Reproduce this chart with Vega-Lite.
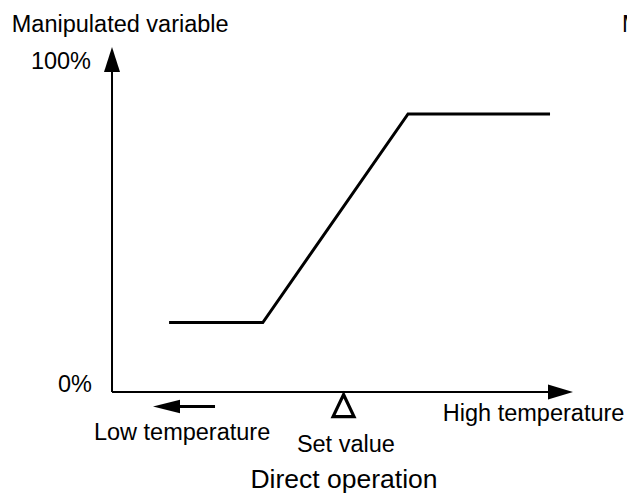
{
  "$schema": "https://vega.github.io/schema/vega-lite/v6.json",
  "width": 627,
  "height": 495,
  "padding": 0,
  "autosize": {"type": "none"},
  "background": "white",
  "config": {"view": {"stroke": null}},
  "datasets": {
    "curve": [
      {"t": 12.3, "mv": 21},
      {"t": 32.5, "mv": 21},
      {"t": 63.8, "mv": 84},
      {"t": 94.4, "mv": 84}
    ],
    "axes": [
      {"axis": "y", "t": 0, "mv": 0},
      {"axis": "y", "t": 0, "mv": 100},
      {"axis": "x", "t": 0, "mv": 0},
      {"axis": "x", "t": 96, "mv": 0}
    ],
    "lowArrow": [
      {"t": 12.5, "mv": -4.4},
      {"t": 22.2, "mv": -4.4}
    ],
    "heads": [
      {"head": "up", "t": 0, "mv": 100.45},
      {"head": "right", "t": 96.66, "mv": 0},
      {"head": "left", "t": 11.75, "mv": -4.4},
      {"head": "set", "t": 49.9, "mv": -4.1}
    ],
    "labels": [
      {"label": "Manipulated variable", "pos": "left", "t": -21.6, "mv": 108.85},
      {"label": "Manipulated variable", "pos": "left", "t": 109.9, "mv": 108.85},
      {"label": "Low temperature", "pos": "left", "t": -3.9, "mv": -14.5},
      {"label": "High temperature", "pos": "left", "t": 71.3, "mv": -8.76},
      {"label": "100%", "pos": "right", "t": -4.53, "mv": 97.58},
      {"label": "0%", "pos": "right", "t": -4.31, "mv": 0},
      {"label": "Set value", "pos": "center", "t": 50.4, "mv": -18.1},
      {"label": "Direct operation", "pos": "title", "t": 50.0, "mv": -29}
    ]
  },
  "encoding": {
    "x": {"field": "t", "type": "quantitative", "axis": null,
          "scale": {"domain": [-24.14, 110.99], "nice": false, "zero": false}},
    "y": {"field": "mv", "type": "quantitative", "axis": null,
          "scale": {"domain": [-31.12, 118.43], "nice": false, "zero": false}}
  },
  "layer": [
    {
      "data": {"name": "axes"},
      "mark": {"type": "line", "color": "black", "strokeWidth": 2},
      "encoding": {"detail": {"field": "axis", "type": "nominal"}, "order": {"field": "t", "type": "quantitative"}}
    },
    {
      "data": {"name": "curve"},
      "mark": {"type": "line", "color": "black", "strokeWidth": 3, "strokeJoin": "miter"},
      "encoding": {}
    },
    {
      "data": {"name": "lowArrow"},
      "mark": {"type": "line", "color": "black", "strokeWidth": 3},
      "encoding": {}
    },
    {
      "data": {"name": "heads"},
      "transform": [{"filter": "datum.head === 'up'"}],
      "mark": {"type": "point", "shape": "M0,-1L-0.64,1L0.64,1Z", "size": 625, "filled": true, "color": "black", "opacity": 1, "strokeWidth": 0}
    },
    {
      "data": {"name": "heads"},
      "transform": [{"filter": "datum.head === 'right'"}],
      "mark": {"type": "point", "shape": "M1,0L-1,-0.6L-1,0.6Z", "size": 625, "filled": true, "color": "black", "opacity": 1, "strokeWidth": 0}
    },
    {
      "data": {"name": "heads"},
      "transform": [{"filter": "datum.head === 'left'"}],
      "mark": {"type": "point", "shape": "M-1,0L1,-0.5L1,0.5Z", "size": 729, "filled": true, "color": "black", "opacity": 1, "strokeWidth": 0}
    },
    {
      "data": {"name": "heads"},
      "transform": [{"filter": "datum.head === 'set'"}],
      "mark": {"type": "point", "shape": "M0,-1L-0.95,1L0.95,1Z", "size": 484, "filled": false, "color": "black", "opacity": 1, "strokeWidth": 3.2, "strokeJoin": "miter"}
    },
    {
      "data": {"name": "labels"},
      "transform": [{"filter": "datum.pos === 'left'"}],
      "mark": {"type": "text", "align": "left", "baseline": "alphabetic", "font": "Liberation Sans", "fontSize": 23.5, "color": "black"},
      "encoding": {"text": {"field": "label"}}
    },
    {
      "data": {"name": "labels"},
      "transform": [{"filter": "datum.pos === 'right'"}],
      "mark": {"type": "text", "align": "right", "baseline": "alphabetic", "font": "Liberation Sans", "fontSize": 23.5, "color": "black"},
      "encoding": {"text": {"field": "label"}}
    },
    {
      "data": {"name": "labels"},
      "transform": [{"filter": "datum.pos === 'center'"}],
      "mark": {"type": "text", "align": "center", "baseline": "alphabetic", "font": "Liberation Sans", "fontSize": 23.5, "color": "black"},
      "encoding": {"text": {"field": "label"}}
    },
    {
      "data": {"name": "labels"},
      "transform": [{"filter": "datum.pos === 'title'"}],
      "mark": {"type": "text", "align": "center", "baseline": "alphabetic", "font": "Liberation Sans", "fontSize": 26.5, "color": "black"},
      "encoding": {"text": {"field": "label"}}
    }
  ]
}
